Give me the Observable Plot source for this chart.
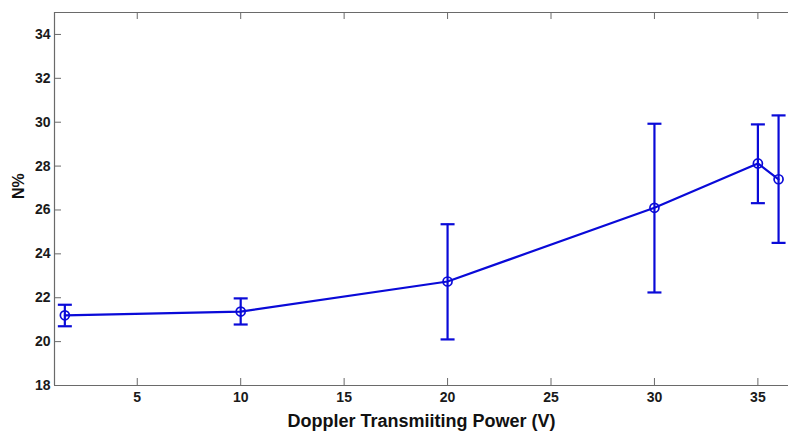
<!DOCTYPE html>
<html>
<head>
<meta charset="utf-8">
<script src="https://cdn.jsdelivr.net/npm/d3@7"></script>
<script src="https://cdn.jsdelivr.net/npm/@observablehq/plot@0.6"></script>
<style>
  html, body { margin: 0; padding: 0; background: #fff; }
  svg { display: block; }
</style>
</head>
<body>
<div id="chart"></div>
<script>
// Data
const power = [1.5, 10, 20, 30, 35, 36];          // Doppler Transmitting Power (V)
const nPct  = [21.2, 21.37, 22.74, 26.10, 28.12, 27.40]; // N%
const errLo = [20.70, 20.78, 20.10, 22.24, 26.31, 24.50];
const errHi = [21.68, 21.97, 25.35, 29.93, 29.90, 30.31];

const xTicks = [5, 10, 15, 20, 25, 30, 35];
const yTicks = [18, 20, 22, 24, 26, 28, 30, 32, 34];

const xLabel = "Doppler Transmiiting Power (V)";
const yLabel = "N%";

const rows = power.map((p, i) => ({x: p, y: nPct[i], lo: errLo[i], hi: errHi[i]}));

const W = 788, H = 433;
const mL = 54, mR = 0, mT = 12, mB = 48;
const frameW = W - mL - mR, frameH = H - mT - mB;
const tick = 7;
const blue = "#0a0ad8";
const axisColor = "#6a6a6a";
const font = "'Liberation Sans', Arial, sans-serif";

const capSymbol = {
  draw(context, size) {
    const r = Math.sqrt(size / Math.PI);
    context.moveTo(-r, 0);
    context.lineTo(r, 0);
  }
};

const chart = Plot.plot({
  width: W,
  height: H,
  marginLeft: mL,
  marginRight: mR,
  marginTop: mT,
  marginBottom: mB,
  style: {background: "#fff", fontFamily: font},
  x: {domain: [1, 36.48], axis: null},
  y: {domain: [18, 35], axis: null},
  marks: [
    // axis box lines
    Plot.ruleY([18], {stroke: axisColor, strokeWidth: 1.2}),
    Plot.ruleY([35], {stroke: axisColor, strokeWidth: 1.2}),
    Plot.ruleX([1], {stroke: axisColor, strokeWidth: 1.2}),
    // inward ticks
    Plot.tickX(xTicks, {x: d => d, insetTop: frameH - tick, stroke: axisColor}),
    Plot.tickX(xTicks, {x: d => d, insetBottom: frameH - tick, stroke: axisColor}),
    Plot.tickY(yTicks, {y: d => d, insetRight: frameW - tick, stroke: axisColor}),
    // tick labels
    Plot.axisX(xTicks, {tickSize: 0, tickPadding: 7, fontSize: 14, fontWeight: "bold", fill: "#1a1a1a", label: null}),
    Plot.axisY(yTicks, {tickSize: 0, tickPadding: 4, fontSize: 14, fontWeight: "bold", fill: "#1a1a1a", label: null}),
    // axis titles
    Plot.text([xLabel], {frameAnchor: "bottom", dy: 36, lineAnchor: "middle", fontSize: 18, fontWeight: "bold", fill: "#111"}),
    Plot.text([yLabel], {frameAnchor: "left", dx: -36, rotate: -90, lineAnchor: "middle", fontSize: 16, fontWeight: "bold", fill: "#111"}),
    // error bars
    Plot.ruleX(rows, {x: "x", y1: "lo", y2: "hi", stroke: blue, strokeWidth: 2.2}),
    Plot.dot(rows, {x: "x", y: "lo", symbol: capSymbol, r: 7, stroke: blue, strokeWidth: 2.2}),
    Plot.dot(rows, {x: "x", y: "hi", symbol: capSymbol, r: 7, stroke: blue, strokeWidth: 2.2}),
    // line and markers
    Plot.line(rows, {x: "x", y: "y", stroke: blue, strokeWidth: 2.2}),
    Plot.dot(rows, {x: "x", y: "y", r: 4.5, stroke: blue, strokeWidth: 1.7, fill: "none"})
  ]
});

document.getElementById("chart").appendChild(chart);
</script>
</body>
</html>
